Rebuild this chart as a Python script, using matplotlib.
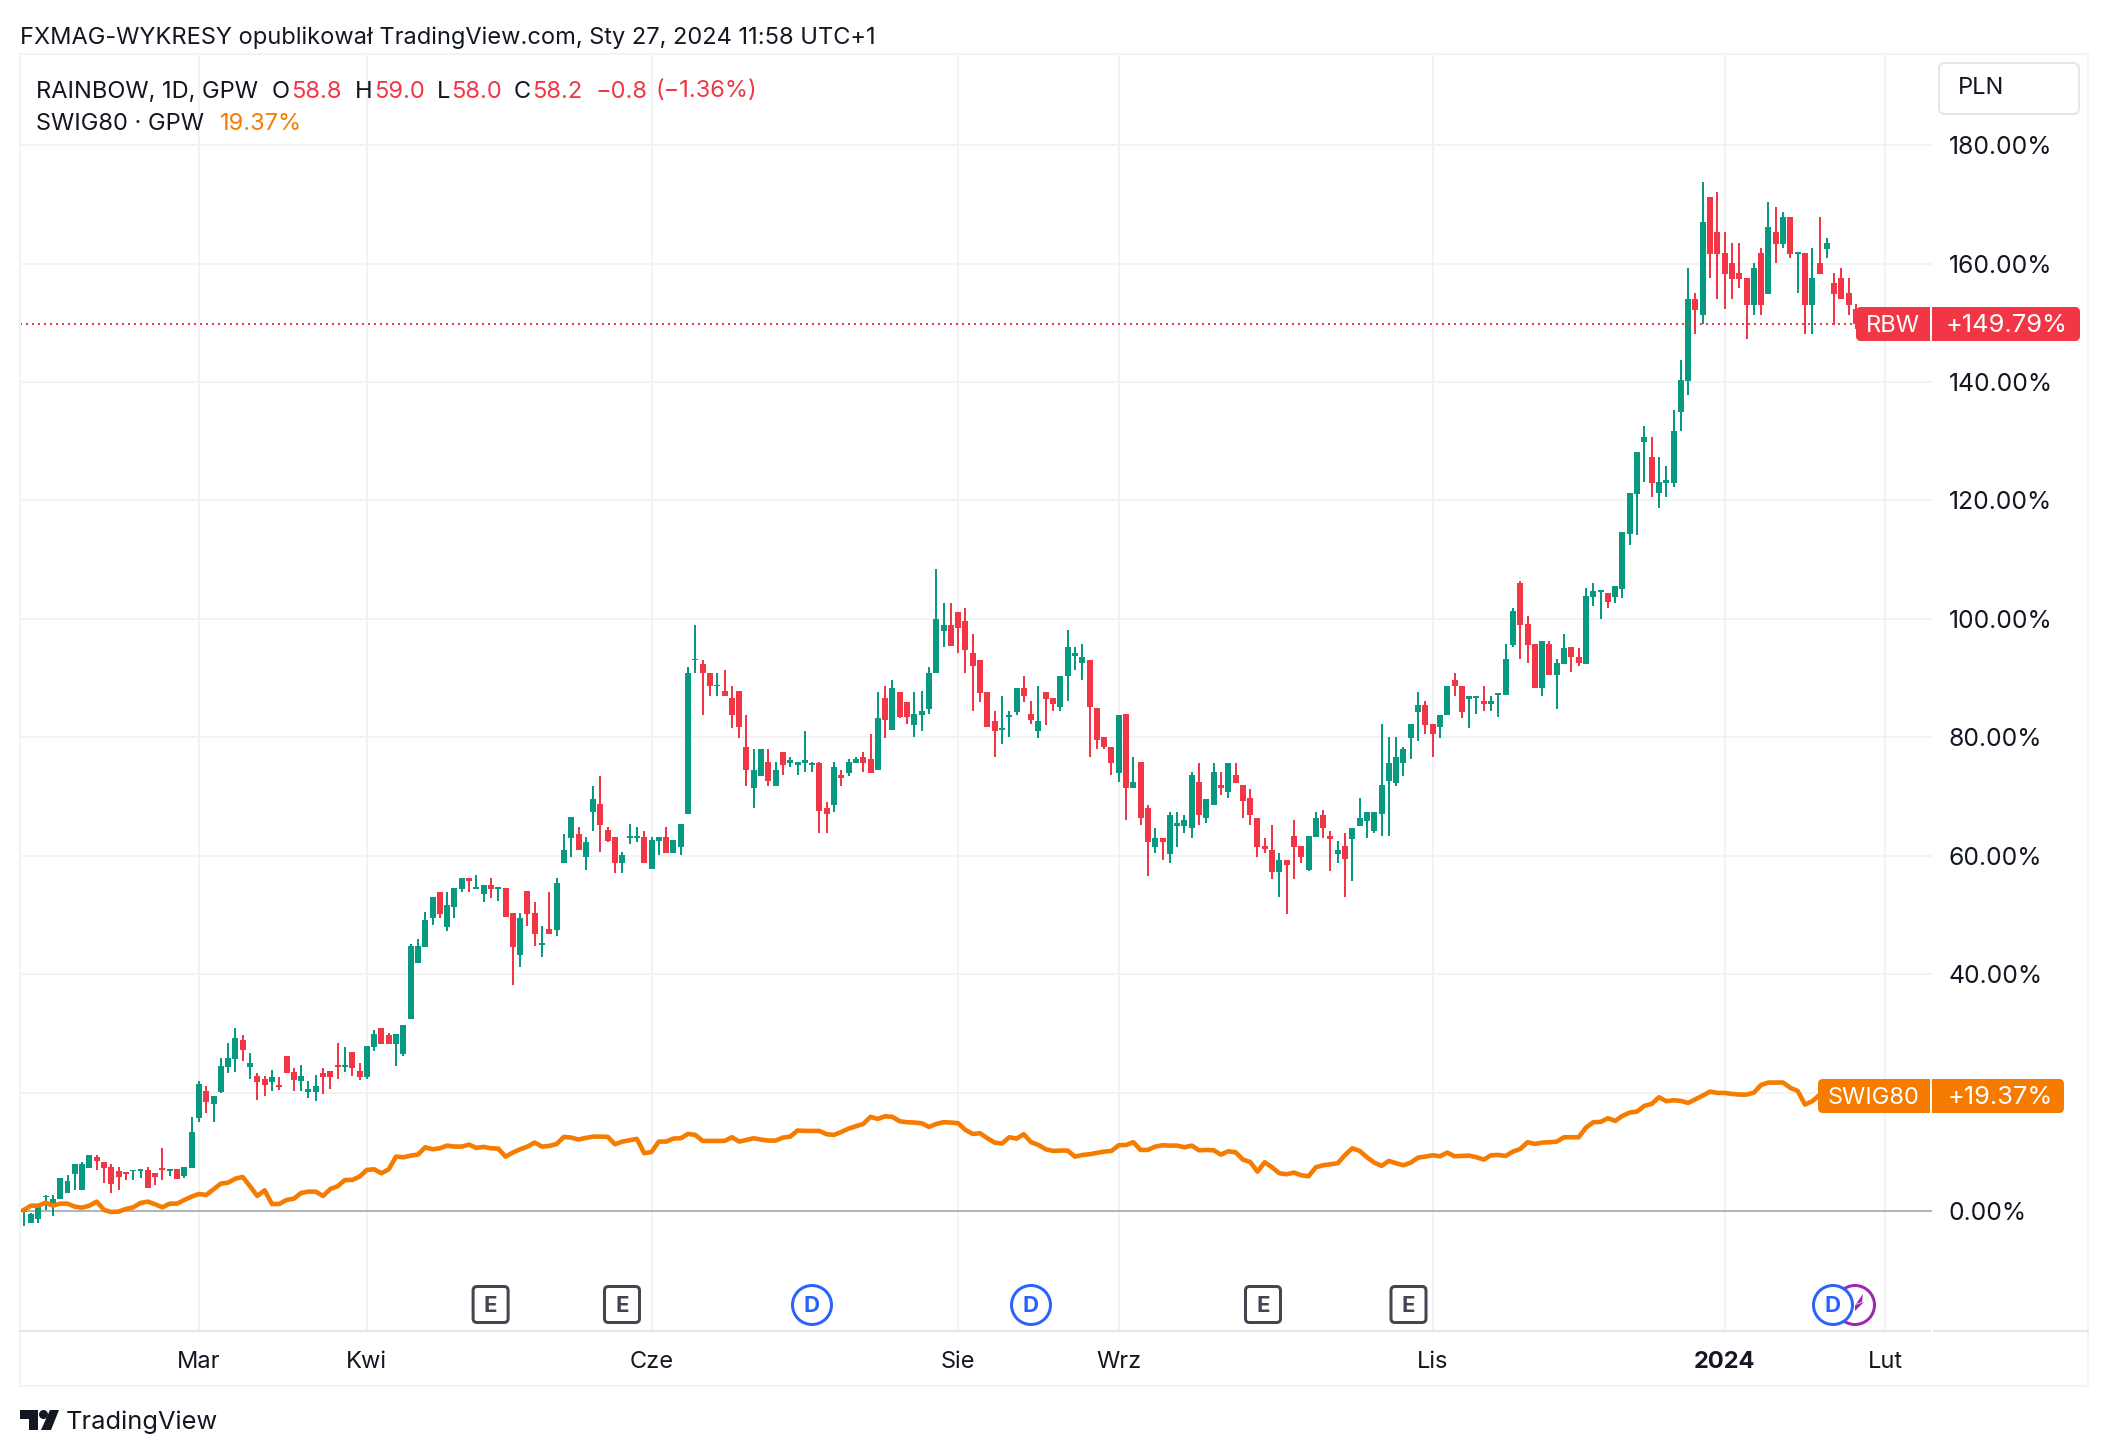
import matplotlib
matplotlib.use("Agg")
import matplotlib.pyplot as plt
from matplotlib.patches import FancyBboxPatch, Circle, Polygon, Rectangle

W, H = 2108, 1456

# RAINBOW candles, % change from the first close
opens = [-0.2,-2.1,-1.4,2.3,0.7,2.0,3.0,6.3,3.6,7.3,
 9.1,8.3,7.4,6.8,6.6,6.7,6.8,6.9,6.4,7.3,
 6.8,7.1,5.9,7.3,15.7,20.3,18.1,20.1,24.3,25.7,
 28.9,24.3,22.8,22.3,21.8,21.3,26.2,23.5,22.0,20.1,
 20.1,23.3,23.7,24.7,24.3,26.9,23.7,22.7,27.7,30.9,
 29.8,28.2,26.5,32.5,41.9,44.6,49.4,53.8,48.0,51.4,
 54.4,56.3,54.4,53.6,55.1,54.4,54.6,50.4,43.3,54.1,
 50.4,45.0,47.7,47.5,58.7,63.0,63.6,59.7,67.3,68.8,
 64.4,63.2,58.7,63.0,63.0,63.2,57.8,62.5,63.2,60.5,
 61.4,67.1,93.0,92.3,90.9,88.6,87.9,86.7,87.9,78.4,
 71.5,73.5,75.9,71.8,77.6,75.7,75.4,75.7,75.4,75.6,
 68.1,68.5,73.7,74.0,75.7,76.7,76.4,74.4,86.7,81.3,
 87.6,85.9,82.1,83.8,84.7,90.8,98.0,99.0,101.2,99.6,
 94.3,93.1,87.6,82.8,81.3,83.5,84.3,88.4,84.0,81.0,
 87.6,86.7,85.2,90.3,93.8,92.5,93.1,84.9,80.1,78.4,
 74.0,84.0,71.5,75.9,68.1,61.5,63.0,60.3,65.1,65.1,
 64.6,72.5,66.3,68.5,72.0,70.7,73.7,72.0,69.8,66.4,
 61.7,60.9,57.3,59.2,63.4,61.7,57.6,63.2,66.9,63.4,
 60.3,61.7,62.9,65.1,65.9,64.1,67.1,72.7,72.3,75.7,
 79.9,84.3,85.4,82.3,81.8,83.8,89.6,88.7,86.5,86.6,
 86.2,85.7,87.1,87.1,95.6,106.0,99.2,95.8,88.4,95.8,
 90.5,92.3,95.3,93.6,92.3,103.7,104.5,104.4,103.7,105.0,
 114.4,121.1,129.8,127.4,121.2,123.0,123.0,135.0,140.1,154.1,
 151.3,171.2,165.3,161.8,160.1,158.4,157.5,153.0,161.8,154.8,
 165.3,163.3,167.8,161.6,161.8,153.0,160.1,162.4,156.7,157.5,
 155.0,152.4]
highs = [0.2,-0.4,1.2,2.7,2.7,5.6,6.1,7.9,8.3,9.5,
 9.5,8.3,7.9,7.4,6.6,6.9,7.1,7.4,6.4,10.7,
 7.1,7.1,7.4,15.9,22.0,21.1,19.4,25.9,28.4,30.9,
 29.8,26.7,23.3,22.8,23.8,22.7,26.2,24.2,24.7,22.0,
 23.0,24.2,23.7,28.4,27.7,26.9,25.0,27.9,30.6,30.9,
 30.1,29.9,31.4,45.1,46.0,50.5,53.1,53.8,53.8,54.6,
 56.3,56.3,56.8,55.1,56.3,54.8,54.6,50.4,50.4,54.1,
 52.1,48.2,53.8,56.3,63.6,66.6,64.9,63.2,71.8,73.5,
 64.9,63.2,60.7,65.4,64.9,64.1,63.2,63.2,64.9,62.7,
 65.4,91.8,99.0,93.1,90.9,90.9,91.4,88.7,87.9,83.7,
 78.1,78.1,78.1,75.9,77.6,76.7,75.9,81.1,75.9,75.9,
 69.0,75.9,74.5,76.4,76.7,77.6,80.6,87.6,88.7,89.6,
 87.6,85.9,87.6,87.9,91.8,108.5,102.6,102.6,101.2,101.8,
 97.4,93.1,87.6,84.5,87.0,84.5,88.4,90.4,86.2,88.7,
 87.6,86.7,90.4,98.2,95.2,95.7,93.1,84.9,80.1,78.4,
 83.7,84.0,76.7,75.9,68.6,64.7,63.0,67.3,67.3,66.9,
 74.2,75.6,69.5,75.6,74.2,75.6,75.6,72.0,71.2,66.4,
 63.0,65.2,60.5,59.2,66.1,61.7,63.4,67.3,67.8,64.2,
 62.5,63.9,64.7,69.8,67.3,67.3,82.3,80.1,80.1,78.4,
 82.3,87.6,86.2,82.3,83.7,88.7,90.9,88.7,86.9,87.0,
 88.7,87.0,87.4,95.8,101.8,106.4,100.5,95.8,96.2,96.2,
 93.3,97.5,95.3,95.0,105.2,106.0,104.9,104.4,105.5,114.6,
 121.3,128.2,132.5,130.8,127.4,125.8,135.2,143.8,159.2,155.0,
 173.8,171.2,172.1,165.3,163.4,163.4,157.5,160.1,162.6,170.4,
 169.5,168.7,167.8,161.9,161.8,162.6,167.8,164.3,158.4,159.2,
 157.5,153.2]
lows = [-2.5,-2.1,-2.0,0.1,-0.8,2.0,3.0,3.6,3.6,7.3,
 6.9,4.7,3.0,3.6,5.2,5.2,5.6,3.9,4.4,5.2,
 5.9,5.4,5.6,7.3,15.0,16.6,15.0,19.9,23.3,23.5,
 25.4,22.3,18.8,19.4,20.3,20.5,23.3,20.3,20.3,19.1,
 18.6,19.8,20.6,22.3,23.5,22.8,22.1,22.3,27.0,28.2,
 28.2,24.5,26.2,32.5,41.9,44.6,48.3,49.5,47.3,49.5,
 53.8,53.8,54.4,52.1,52.9,52.4,49.7,38.2,41.2,48.2,
 44.8,42.9,46.7,46.5,58.7,59.8,60.9,57.6,64.1,60.7,
 62.4,57.1,57.1,61.9,62.4,58.7,57.8,60.2,60.5,60.5,
 60.2,67.1,90.9,83.7,87.0,87.0,86.9,81.5,79.8,71.7,
 68.1,73.5,71.7,71.8,73.7,75.0,73.7,74.2,74.2,63.9,
 63.9,67.3,71.7,73.4,75.6,74.2,74.0,74.4,79.8,81.3,
 83.2,82.3,80.1,81.1,84.0,90.8,95.2,95.5,94.3,90.9,
 84.5,85.9,81.8,76.7,78.9,80.1,83.7,85.9,82.3,79.8,
 82.0,84.5,84.5,86.2,91.4,89.6,76.7,78.1,78.1,73.7,
 72.5,66.1,71.5,65.2,56.6,60.5,59.2,58.7,61.4,63.9,
 63.0,65.2,65.6,68.5,70.3,69.8,72.3,66.4,65.2,59.7,
 60.5,56.1,53.1,50.2,56.1,58.7,57.5,63.2,63.0,57.5,
 58.7,53.1,55.8,65.1,63.0,63.9,63.4,63.4,71.7,73.4,
 76.4,79.3,80.6,76.7,79.8,83.8,87.0,83.2,81.5,84.0,
 84.5,84.5,83.5,87.1,95.3,93.3,92.5,88.4,86.9,90.5,
 84.8,92.3,91.1,92.0,92.3,102.2,100.0,101.8,102.7,103.5,
 112.4,114.1,123.2,120.5,118.8,120.5,122.2,131.7,137.8,148.1,
 149.8,157.5,154.1,152.3,154.1,155.8,147.2,151.4,151.4,154.8,
 160.1,162.6,160.9,155.0,148.1,148.1,158.2,160.9,149.6,154.0,
 151.4,148.9]
closes = [0.2,-0.5,1.2,2.5,2.0,5.6,5.1,7.9,7.9,9.5,
 8.5,7.3,4.6,5.8,6.3,6.9,7.1,3.9,5.8,6.9,
 7.1,5.4,7.4,13.4,21.5,18.4,19.4,24.5,25.9,29.2,
 27.2,25.0,21.8,21.3,22.7,21.0,23.3,22.1,22.8,20.6,
 21.1,22.7,22.7,24.3,24.7,24.2,22.7,27.9,29.9,28.2,
 28.2,29.9,31.4,44.8,44.8,49.2,53.1,50.2,51.6,54.6,
 56.3,55.8,54.8,55.1,54.4,54.8,49.7,44.6,49.5,50.2,
 46.7,45.3,46.7,55.4,61.0,66.6,60.9,62.4,69.6,65.2,
 62.5,58.7,60.2,63.4,63.4,58.7,62.7,63.2,60.5,62.7,
 65.4,90.9,93.3,90.8,88.6,88.9,86.9,83.8,81.8,74.4,
 74.5,78.1,72.7,74.5,75.4,76.1,75.9,76.1,75.7,67.6,
 67.1,75.0,73.2,75.9,76.3,75.7,74.0,83.2,83.0,88.4,
 83.5,83.5,84.0,84.5,90.9,99.9,99.0,95.5,98.5,94.7,
 92.1,87.4,81.8,81.0,81.6,83.8,88.4,86.9,83.0,82.8,
 86.5,85.7,90.4,95.2,94.3,93.5,85.2,79.6,78.3,75.7,
 83.7,71.5,72.5,66.3,62.4,63.0,62.4,66.9,65.6,66.1,
 73.7,66.8,69.5,74.2,71.5,75.6,72.3,69.3,66.8,61.5,
 61.2,57.3,59.2,58.5,61.5,59.8,63.4,66.4,64.6,62.9,
 60.9,59.5,64.7,66.4,67.3,67.3,72.0,75.6,76.7,78.1,
 82.3,85.4,82.1,80.5,83.7,88.7,88.6,84.3,86.9,86.9,
 85.7,86.2,87.4,93.3,101.3,99.0,95.6,88.4,96.2,90.5,
 92.5,95.0,93.5,92.6,103.9,104.7,104.9,102.9,105.5,114.6,
 121.3,128.2,130.8,123.0,123.2,123.4,131.7,140.3,154.1,152.1,
 167.0,161.6,161.6,158.2,157.4,157.4,153.0,159.2,153.0,166.1,
 163.3,167.8,161.6,161.9,153.0,157.5,158.2,163.4,154.8,154.0,
 153.0,149.8]

# SWIG80 line: trading-day index and % change
swig_days = list(range(0, 247)) + [251]
swig_pct = [0.17,0.90,0.90,1.41,0.90,1.24,1.24,0.73,0.56,0.90,
 1.58,0.17,-0.17,-0.11,0.34,0.62,1.35,1.58,1.13,0.62,
 1.24,1.24,1.86,2.42,2.87,2.70,3.66,4.62,4.79,5.46,
 5.75,4.17,2.54,3.49,1.18,1.18,1.86,2.08,3.04,3.27,
 3.27,2.54,3.72,4.17,5.24,5.24,5.80,6.93,7.04,6.37,
 7.04,9.18,9.07,9.35,9.52,10.76,10.42,10.59,11.04,10.87,
 10.87,11.21,10.65,10.82,10.59,10.54,9.18,9.86,10.42,10.87,
 11.55,10.87,10.99,11.32,12.51,12.39,12.06,12.34,12.56,12.56,
 12.51,11.27,11.72,11.94,12.17,9.75,9.97,11.72,11.72,12.23,
 12.28,13.01,12.85,11.83,11.83,11.83,11.83,12.45,11.72,12.0,
 12.28,12.06,11.89,11.89,12.39,12.56,13.58,13.52,13.52,13.52,
 12.96,12.85,13.35,13.92,14.31,14.70,15.89,15.55,16.0,15.89,
 15.15,14.99,14.93,14.82,14.2,14.7,14.99,14.93,14.82,13.69,
 13.01,13.13,12.28,11.55,11.38,12.45,12.23,12.96,11.61,11.15,
 10.42,10.14,10.2,10.2,9.18,9.46,9.58,9.8,10.03,10.14,
 11.1,11.15,11.61,10.31,10.31,10.87,11.1,11.04,11.04,10.76,
 11.04,10.25,10.31,10.25,9.52,10.08,9.92,8.68,8.28,6.65,
 8.23,7.38,6.37,6.2,6.48,6.03,5.86,7.38,7.72,7.89,
 8.06,9.46,10.59,10.14,9.07,8.17,7.61,8.45,8.06,7.72,
 8.17,9.01,9.18,9.41,9.24,9.86,9.24,9.3,9.35,9.07,
 8.68,9.41,9.46,9.3,10.03,10.48,11.61,11.32,11.55,11.61,
 11.72,12.45,12.45,12.45,14.08,14.99,15.04,15.66,15.21,16.06,
 16.62,16.79,17.75,18.08,19.21,18.54,18.7,18.59,18.25,18.87,
 19.49,20.17,19.94,19.94,19.77,19.66,19.66,20.0,21.3,21.69,
 21.69,21.69,20.79,20.28,17.97,18.54,19.6,19.37]

month_days = [24, 47, 86, 128, 150, 193, 233, 255]
month_labels = ["Mar", "Kwi", "Cze", "Sie", "Wrz", "Lis", "2024", "Lut"]
pct_ticks = list(range(0, 200, 20))
hidden_tick = 20  # its label sits behind the SWIG80 price tag
last_rbw = 149.79
last_swig = 19.37

GREEN, RED, ORANGE = "#089981", "#F23645", "#F57C00"
INK = "#131722"
GRID = "#F2F3F5"
EDGE = "#E4E6EE"
FONT = ["Inter", "DejaVu Sans"]
plt.rcParams["font.family"] = FONT

fig = plt.figure(figsize=(W / 100, H / 100), dpi=100, facecolor="white")
ax = fig.add_axes([20 / W, 1 - 1331 / H, 1912 / W, (1331 - 54) / H])
ax.set_xlim(-0.507, 261.4)
ax.set_ylim(-20.27, 195.4)
px = 0.72  # one pixel in points

ax.set_axisbelow(True)
ax.grid(True, color=GRID, lw=2 * px)
ax.set_xticks(month_days, month_labels)
ax.set_yticks(pct_ticks, ["" if v == hidden_tick else f"{v:.2f}%" for v in pct_ticks])
ax.yaxis.tick_right()
ax.tick_params(axis="both", length=0, labelcolor=INK)
ax.tick_params(axis="x", pad=14.2, labelsize=17.0)
ax.tick_params(axis="y", pad=12, labelsize=17.8)
for t in ax.get_xticklabels():
    if t.get_text() == "2024":
        t.set_fontweight("bold")
for s in ax.spines.values():
    s.set_visible(False)

ax.axhline(0, color="#B2B5BE", lw=2 * px, zorder=1)

idx = list(range(len(closes)))
colors = [GREEN if c >= o else RED for o, c in zip(opens, closes)]
ax.vlines(idx, lows, highs, colors=colors, lw=2 * px, zorder=2)
ax.bar(idx, [abs(c - o) for o, c in zip(opens, closes)],
       bottom=[min(o, c) for o, c in zip(opens, closes)],
       width=0.82, color=colors, linewidth=0, zorder=3)
ax.axhline(last_rbw, color=RED, lw=2 * px, ls=(0, (1, 2)), zorder=4)
ax.plot(swig_days, swig_pct, color=ORANGE, lw=4.6 * px, solid_joinstyle="round", zorder=5)

# chrome overlay in picture pixels
ui = fig.add_axes([0, 0, 1, 1], facecolor="none")
ui.set_xlim(0, W)
ui.set_ylim(H, 0)
ui.axis("off")

ui.add_patch(Rectangle((20, 54), 2068, 1332, fill=False, ec="#F0F3FA", lw=2 * px))
ui.plot([20, 1930], [1331, 1331], color=EDGE, lw=2 * px)
ui.plot([1934, 2088], [1331, 1331], color=EDGE, lw=2 * px)


def txt(x, y, s, color=INK, ha="left", size=17.0, weight="normal", **kw):
    ui.text(x, y + 2.5, s, color=color, ha=ha, va="center", fontsize=size, fontweight=weight, **kw)


txt(20, 35, "FXMAG-WYKRESY opublikował TradingView.com, Sty 27, 2024 11:58 UTC+1")
txt(36, 89, "RAINBOW, 1D, GPW")
for x, s, c in [(272, "O", INK), (291, "58.8", RED), (355, "H", INK), (374, "59.0", RED),
                (437, "L", INK), (451, "58.0", RED), (514, "C", INK), (532, "58.2", RED),
                (596, "\u22120.8", RED), (655, "(\u22121.36%)", RED)]:
    txt(x, 89, s, c)
txt(36, 122, "SWIG80 \u00b7 GPW")
txt(220, 122, "19.37%", ORANGE)

ui.add_patch(FancyBboxPatch((1943, 67), 132, 43, boxstyle="round,pad=4,rounding_size=6",
                            fc="white", ec="#E4E6EE", lw=2 * px))
txt(1958, 86, "PLN")


def price_label(x0, x1, y, color, name, name_x, value, value_x):
    ui.add_patch(FancyBboxPatch((x0 + 4, y - 13), x1 - x0 - 8, 26,
                                boxstyle="round,pad=4,rounding_size=5", fc=color, ec="none", zorder=8))
    ui.plot([1931, 1931], [y - 18, y + 18], color="white", lw=2 * px, zorder=9)
    txt(name_x, y - 1, name, "white", ha="center", zorder=10)
    txt(value_x, y - 1, value, "white", ha="center", size=18.3, zorder=10)


price_label(1856, 2080, 324, RED, "RBW", 1893, "+149.79%", 2007)
price_label(1818, 2064, 1096, ORANGE, "SWIG80", 1874, "+19.37%", 2000)

# event markers
for x in (490.6, 622, 1263, 1408.5):
    ui.add_patch(FancyBboxPatch((x - 15.5, 1288.5), 31, 32, boxstyle="round,pad=2,rounding_size=4",
                                fc="white", ec="#434651", lw=3 * px))
    txt(x, 1303, "E", "#434651", ha="center", size=16, weight="bold")

ui.add_patch(Circle((1855, 1305), 19.5, fc="white", ec="#9C27B0", lw=3 * px))
ui.add_patch(Polygon([(1863, 1294), (1856, 1304), (1862, 1302)], fc="#9C27B0", ec="none"))
ui.add_patch(Polygon([(1855, 1305), (1864, 1302), (1855, 1311)], fc="#9C27B0", ec="none"))
for x in (812, 1031, 1833):
    ui.add_patch(Circle((x, 1305), 19.5, fc="white", ec="#2962FF", lw=3 * px, zorder=3))
    txt(x, 1303, "D", "#2962FF", ha="center", size=16, weight="bold", zorder=4)

# logo
ui.add_patch(Polygon([(20, 1410), (38, 1410), (38, 1430), (29, 1430), (29, 1419), (20, 1419)], fc=INK, ec="none"))
ui.add_patch(Circle((43.5, 1414.5), 4.5, fc=INK, ec="none"))
ui.add_patch(Polygon([(50, 1410), (59, 1410), (51, 1430), (41, 1430)], fc=INK, ec="none"))
txt(66, 1420, "TradingView", size=18.3)

fig.savefig("out.png", dpi=100)
